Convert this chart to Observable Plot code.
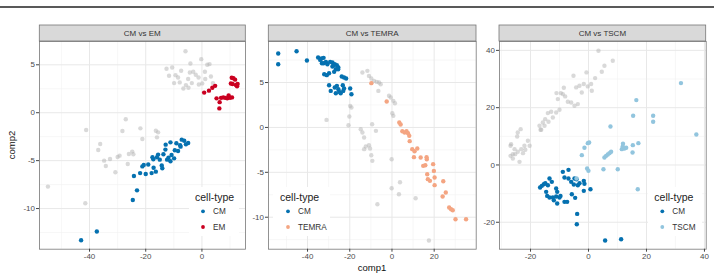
<!DOCTYPE html>
<html>
<head>
<meta charset="utf-8">
<script src="https://cdn.jsdelivr.net/npm/d3@7"></script>
<script src="https://cdn.jsdelivr.net/npm/@observablehq/plot@0.6"></script>
<style>
  html, body { margin: 0; padding: 0; background: #fff; }
  #fig { position: relative; width: 714px; height: 276px; overflow: hidden;
         font-family: "Liberation Sans", Arial, sans-serif; }
  #fig > svg { position: absolute; }
</style>
</head>
<body>
<div id="fig"></div>
<script>
// ---- CM vs EM ----
const emGray = [[-54.8,-7.71],[-41.5,-9.45],[-41.2,-1.81],[-36.9,-3.89],[-36.2,-3.26],[-34.8,-5.0],[-34.2,-5.56],[-32.7,-4.83],[-30.8,-6.21],[-30.0,-4.62],[-29.3,-4.48],[-28.3,-1.91],[-27.1,-0.69],[-26.4,-5.35],[-26.0,-4.31],[-24.8,-4.06],[-24.4,-4.34],[-21.9,-1.63],[-21.2,-2.74],[-16.4,-1.88],[-15.6,-2.05],[-16.0,-2.57],
  [-5.85,6.42],[-12.6,4.58],[-10.6,4.72],[-9.4,3.92],[-8.5,3.68],[-9.9,3.09],[-7.9,3.16],[-6.6,2.53],[-5.7,2.88],[-4.9,3.51],[-4.1,5.14],[-4.3,4.2],[-3.1,4.27],[-2.2,3.96],[-1.2,3.68],[-0.25,5.59],[0.1,3.06],[1.06,4.27],[1.9,5.0],[2.7,5.07],[3.2,3.78],[3.9,3.09],[1.17,3.51],[-1.1,2.95],[-4.8,2.6],[-3.6,3.09],[-7.4,4.38],[-11.7,3.85]];
const emCM = [[-43.0,-13.3],[-37.4,-12.4],[-24.6,-9.1],[-23.1,-8.1],[-24.2,-6.6],[-22.0,-6.3],[-20.0,-6.4],[-21.2,-5.6],[-20.7,-5.45],[-19.1,-5.4],[-17.9,-6.3],[-16.4,-6.15],[-17.2,-5.75],[-17.3,-4.86],[-16.0,-4.65],[-17.6,-4.65],[-14.3,-5.5],[-14.1,-5.8],[-13.7,-4.34],[-15.6,-4.37],[-13.0,-3.85],[-12.9,-3.33],[-11.2,-3.09],[-11.9,-4.69],[-10.8,-4.41],[-11.2,-5.07],[-9.9,-4.76],[-9.65,-3.92],[-8.5,-3.99],[-7.6,-3.54],[-9.1,-3.19],[-7.2,-2.81],[-6.3,-2.92],[-5.7,-3.3],[-4.9,-3.16],[-7.75,-3.4],[-12.4,-4.9],[-15.0,-4.9]];
const emEM = [[0.8,2.1],[2.5,2.3],[3.7,2.6],[4.7,2.8],[5.2,1.5],[6.2,0.45],[6.3,1.1],[6.8,1.55],[7.6,1.6],[8.3,1.55],[9.0,1.5],[9.5,1.8],[10.0,1.55],[10.7,1.6],[10.9,3.0],[11.2,3.6],[11.8,3.45],[12.1,2.9],[12.5,2.75],[12.7,3.0],[10.6,3.65],[10.3,3.05]];
const emXTicks = [-40, -20, 0], emXMinor = [-50, -30, -10, 10];
const emYTicks = [-10, -5, 0, 5], emYMinor = [-12.5, -7.5, -2.5, 2.5];

// ---- CM vs TEMRA ----
const temraGray = [[-14.0,6.11],[-11.65,6.3],[-10.9,5.74],[-9.8,5.45],[-8.5,5.19],[-7.2,5.07],[-6.1,5.0],[-5.35,4.81],[-6.45,4.07],[-1.4,3.52],[-0.6,3.33],[0.64,2.96],[1.4,2.7],[0.16,1.58],[0.64,1.29],[-19.8,2.4],[-19.2,2.22],[-20.2,1.21],[-20.6,0.25],[-31.0,0.84],[-14.8,-0.2],[-14.0,-0.57],[-13.2,-1.12],[-12.4,-2.13],[-10.9,-1.98],[-10.4,-2.35],[-13.2,-2.42],[-9.8,-3.09],[-9.3,-3.72],[-7.6,-0.38],[-9.4,0.36],[-0.15,-3.54],[-0.15,-6.77],[3.8,-6.1],[3.3,-7.44],[11.2,-7.88],[-6.9,-8.55],[17.5,-12.6]];
const temraCM = [[-53.9,8.23],[-53.9,7.04],[-45.2,8.49],[-40.3,7.45],[-35.0,7.78],[-34.0,7.52],[-33.4,7.67],[-32.4,7.75],[-33.2,7.15],[-31.3,7.3],[-30.6,7.04],[-29.3,7.3],[-28.2,7.23],[-27.9,6.86],[-27.1,7.04],[-26.1,6.93],[-25.4,6.67],[-26.6,6.48],[-32.1,5.93],[-30.9,5.82],[-29.8,6.04],[-27.4,6.19],[-23.8,5.67],[-22.7,5.56],[-21.7,5.45],[-29.8,4.7],[-29.0,4.07],[-27.1,4.44],[-26.1,4.63],[-25.4,4.26],[-25.0,3.96],[-26.6,3.81],[-24.3,3.81],[-23.3,4.7],[-22.7,4.33],[-23.1,4.07],[-19.8,4.33],[-19.2,3.7],[-28.2,6.78],[-32.4,7.15],[-25.5,6.48]];
const temraTEMRA = [[-9.76,4.93],[-2.5,2.88],[3.47,0.55],[4.1,0.32],[4.9,-0.42],[6.0,-0.57],[6.9,-0.42],[7.6,-0.64],[8.2,-0.94],[8.4,-1.53],[9.6,-2.42],[10.7,-2.65],[12.0,-2.35],[10.4,-3.31],[13.6,-3.35],[14.8,-4.28],[15.8,-4.21],[16.4,-3.31],[16.5,-3.54],[16.7,-5.21],[17.0,-5.76],[18.0,-5.95],[19.5,-4.09],[19.85,-4.84],[20.2,-5.58],[20.2,-6.43],[24.3,-5.99],[25.5,-7.25],[24.0,-7.7],[27.1,-8.92],[28.0,-9.11],[28.8,-9.22],[30.1,-10.22],[35.1,-10.22]];
const temraXTicks = [-40, -20, 0, 20], temraXMinor = [-50, -30, -10, 10, 30];
const temraYTicks = [-10, -5, 0, 5], temraYMinor = [-12.5, -7.5, -2.5, 2.5, 7.5];

// ---- CM vs TSCM ----
const tscmGray = [[3.44,39.88],[8.38,36.39],[5.5,34.64],[4.59,32.55],[2.29,30.33],[-0.7,32.31],[0.91,28.24],[-0.24,27.42],[1.14,25.91],[-3.11,27.65],[-2.31,25.32],[-1.62,28.24],[-4.26,27.07],[-5.18,31.15],[-8.51,26.95],[-9.54,25.09],[-11.04,25.09],[-10.58,22.99],[-8.05,23.93],[-7.13,22.06],[-5.98,21.83],[-3.68,21.25],[-4.83,20.66],[-10.0,19.27],[-11.15,18.33],[-12.88,18.57],[-14.03,18.1],[-14.94,16.0],[-15.75,14.84],[-16.9,13.67],[-16.55,12.28],[-15.17,13.67],[-16.3,12.28],[-20.9,8.43],[-20.3,6.69],[-22.1,6.69],[-23.2,5.52],[-23.4,12.51],[-24.4,11.35],[-24.6,9.95],[-25.5,5.52],[-26.1,3.77],[-26.9,6.69],[-26.9,3.19],[-26.1,2.26],[-25.3,3.77],[-24.4,4.59],[-23.8,1.09],[-22.6,4.12],[-21.8,5.29],[-26.7,7.27],[-13.8,15.07],[-12.3,16.59],[-8.85,24.74]];
const tscmCM = [[-16.7,-7.87],[-16.1,-7.29],[-15.4,-6.71],[-14.9,-6.36],[-14.0,-7.06],[-14.6,-9.39],[-14.25,-10.79],[-13.45,-4.73],[-12.65,-5.89],[-13.45,-11.37],[-12.3,-11.37],[-11.96,-12.3],[-11.15,-11.02],[-10.8,-13.46],[-11.15,-8.22],[-10.8,-9.39],[-10.0,-11.37],[-9.66,-10.79],[-8.85,-2.4],[-8.28,-12.88],[-7.36,-12.88],[-6.9,-1.7],[-8.28,-4.38],[-6.9,-4.73],[-5.98,-5.89],[-5.75,-10.2],[-5.06,-6.83],[-4.83,-4.73],[-4.6,-11.48],[-4.14,-4.96],[-3.68,-7.06],[-3.11,-6.36],[-1.62,-5.54],[-1.39,-6.59],[-1.62,-9.04],[0.68,-8.46],[-3.91,-17.08],[-4.03,-20.69],[5.74,-26.39],[11.25,-25.93]];
const tscmTSCM = [[-2.3,3.43],[-1.39,5.99],[-0.24,7.62],[0.22,7.85],[-0.47,-1.23],[-0.01,-2.05],[5.16,-1.47],[5.5,2.61],[6.08,3.19],[6.66,3.66],[7.23,4.12],[7.8,4.59],[7.58,13.44],[10.1,-1.47],[11.5,5.52],[11.8,6.45],[11.9,7.39],[12.4,5.76],[13.0,5.99],[15.2,4.36],[15.3,6.92],[15.4,17.17],[16.5,22.64],[17.2,7.62],[17.0,-8.46],[22.3,17.17],[22.3,15.07],[31.9,28.58],[37.2,10.65],[-4.14,-4.73]];
const tscmXTicks = [-20, 0, 20, 40], tscmXMinor = [-30, -10, 10, 30];
const tscmYTicks = [-20, 0, 20, 40], tscmYMinor = [-10, 10, 30];

// Group colours (RdBu)
const colorCM = "#0571B0";
const colorEM = "#CA0020";
const colorTEMRA = "#F4A582";
const colorTSCM = "#92C5DE";

const panels = [
  { title: "CM vs EM", gray: emGray, cm: emCM, other: emEM, otherName: "EM", otherColor: colorEM,
    xDomain: [-57.8, 15.5], yDomain: [-14.24, 7.43],
    xTicks: emXTicks, xMinor: emXMinor, yTicks: emYTicks, yMinor: emYMinor,
    left: 39.3, right: 245.3, legendX: 195, legendBox: [189, 239] },
  { title: "CM vs TEMRA", gray: temraGray, cm: temraCM, other: temraTEMRA, otherName: "TEMRA", otherColor: colorTEMRA,
    xDomain: [-58.5, 39.9], yDomain: [-13.56, 9.57],
    xTicks: temraXTicks, xMinor: temraXMinor, yTicks: temraYTicks, yMinor: temraYMinor,
    left: 268.3, right: 476.0, legendX: 280, legendBox: [273, 330] },
  { title: "CM vs TSCM", gray: tscmGray, cm: tscmCM, other: tscmTSCM, otherName: "TSCM", otherColor: colorTSCM,
    xDomain: [-30.7, 40.6], yDomain: [-29.4, 43.1],
    xTicks: tscmXTicks, xMinor: tscmXMinor, yTicks: tscmYTicks, yMinor: tscmYMinor,
    left: 499.0, right: 705.7, legendX: 654.3, legendBox: [648, 702] }
];

const TOP = 41, BOTTOM = 248.7;
const MT = 4, MB = 27, ML = 36, MR = 4;
const fig = document.getElementById("fig");
const fontFamily = '"Liberation Sans", Arial, sans-serif';
const fmt = d => String(d);

for (const p of panels) {
  const w = p.right - p.left, h = BOTTOM - TOP;
  const chart = Plot.plot({
    width: ML + w + MR,
    height: MT + h + MB,
    marginTop: MT, marginBottom: MB, marginLeft: ML, marginRight: MR,
    style: { fontFamily, fontSize: "8px", background: "transparent", overflow: "visible" },
    x: { domain: p.xDomain },
    y: { domain: p.yDomain },
    marks: [
      Plot.gridX(p.xMinor, { stroke: "#f2f2f2", strokeOpacity: 1, strokeWidth: 0.6 }),
      Plot.gridY(p.yMinor, { stroke: "#f2f2f2", strokeOpacity: 1, strokeWidth: 0.6 }),
      Plot.gridX(p.xTicks, { stroke: "#e8e8e8", strokeOpacity: 1, strokeWidth: 1 }),
      Plot.gridY(p.yTicks, { stroke: "#e8e8e8", strokeOpacity: 1, strokeWidth: 1 }),
      Plot.dot(p.gray, { x: d => d[0], y: d => d[1], r: 2.2, fill: "#b4b4b4", fillOpacity: 0.5, stroke: null }),
      Plot.dot(p.cm, { x: d => d[0], y: d => d[1], r: 2.2, fill: colorCM, stroke: null }),
      Plot.dot(p.other, { x: d => d[0], y: d => d[1], r: 2.2, fill: p.otherColor, stroke: null }),
      Plot.frame({ stroke: "#777", strokeWidth: 0.8 }),
      Plot.axisX(p.xTicks, { tickSize: 3, tickPadding: 1.5, stroke: "#444", fill: "#4d4d4d", label: null, tickFormat: fmt }),
      Plot.axisY(p.yTicks, { tickSize: 3, tickPadding: 1.5, stroke: "#444", fill: "#4d4d4d", label: null, tickFormat: fmt })
    ]
  });
  chart.style.left = (p.left - ML) + "px";
  chart.style.top = (TOP - MT) + "px";
  fig.appendChild(chart);
}

// Strips, titles and legends on top of the panels
const over = d3.select(fig).append("svg")
  .attr("width", 714).attr("height", 276)
  .style("left", "0px").style("top", "0px")
  .style("font-family", fontFamily);

over.append("line").attr("x1", 0).attr("x2", 714).attr("y1", 7).attr("y2", 7)
  .attr("stroke", "#222").attr("stroke-width", 1.6);

for (const p of panels) {
  over.append("rect").attr("x", p.left).attr("y", 25).attr("width", p.right - p.left).attr("height", 16)
    .attr("fill", "#d9d9d9").attr("stroke", "#777").attr("stroke-width", 0.8);
  over.append("text").attr("x", (p.left + p.right) / 2).attr("y", 33).attr("dy", "0.35em")
    .attr("text-anchor", "middle").attr("font-size", 8).attr("fill", "#333").text(p.title);

  const g = over.append("g");
  g.append("rect").attr("x", p.legendBox[0]).attr("y", 187)
    .attr("width", p.legendBox[1] - p.legendBox[0]).attr("height", 49).attr("fill", "#fff");
  g.append("text").attr("x", p.legendX).attr("y", 197).attr("dy", "0.35em")
    .attr("font-size", 10.5).attr("fill", "#222").text("cell-type");
  const items = [["CM", colorCM, 211.3], [p.otherName, p.otherColor, 227]];
  for (const [name, col, yy] of items) {
    g.append("circle").attr("cx", p.legendX + 8).attr("cy", yy).attr("r", 1.9).attr("fill", col);
    g.append("text").attr("x", p.legendX + 18).attr("y", yy).attr("dy", "0.35em")
      .attr("font-size", 8.2).attr("fill", "#333").text(name);
  }
}

over.append("text").attr("transform", "translate(12,145) rotate(-90)").attr("dy", "0.35em")
  .attr("text-anchor", "middle").attr("font-size", 9.5).attr("fill", "#111").text("comp2");
over.append("text").attr("x", 372).attr("y", 268).attr("dy", "0.35em")
  .attr("text-anchor", "middle").attr("font-size", 9.5).attr("fill", "#111").text("comp1");
</script>
</body>
</html>
